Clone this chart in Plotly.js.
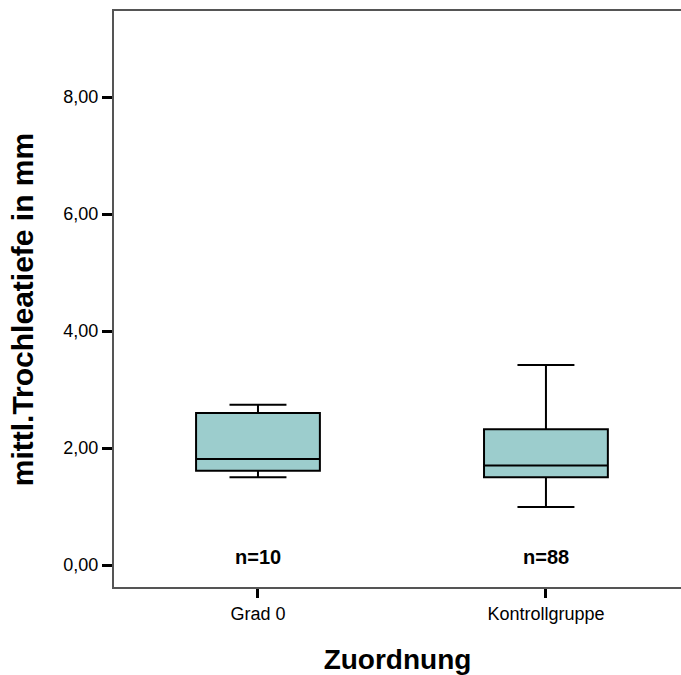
<!DOCTYPE html>
<html>
<head>
<meta charset="utf-8">
<script src="https://cdn.plot.ly/plotly-3.0.1.min.js"></script>
<style>html,body{margin:0;padding:0;background:#fff;}#chart{width:681px;height:675px;}</style>
</head>
<body>
<div id="chart"></div>
<script>
const categories = ["Grad 0", "Kontrollgruppe"];
const q1 = [1.61, 1.50];
const medians = [1.81, 1.70];
const q3 = [2.60, 2.32];
const lowerWhisker = [1.50, 0.99];
const upperWhisker = [2.74, 3.42];
const nLabels = ["n=10", "n=88"];
const yTicks = [0, 2, 4, 6, 8];
const yTickText = ["0,00", "2,00", "4,00", "6,00", "8,00"];
const yTitle = "mittl.Trochleatiefe in mm";
const xTitle = "Zuordnung";

const FONT = "Liberation Sans, Arial, sans-serif";

const trace = {
  type: "box",
  x: categories,
  q1: q1,
  median: medians,
  q3: q3,
  lowerfence: lowerWhisker,
  upperfence: upperWhisker,
  fillcolor: "#9CCDCD",
  line: {color: "#000000", width: 2},
  width: 0.43,
  whiskerwidth: 0.46,
  boxpoints: false,
  hoverinfo: "skip",
  showlegend: false
};

const annotations = categories.map((c, i) => ({
  x: c, y: 0.145, xref: "x", yref: "y",
  text: "<b>" + nLabels[i] + "</b>",
  showarrow: false, yanchor: "middle",
  font: {family: FONT, size: 20, color: "#000"}
}));
annotations.push({
  xref: "paper", yref: "paper",
  x: -0.160, y: 0.481,
  xanchor: "center", yanchor: "middle",
  textangle: -90,
  text: "<b>" + yTitle + "</b>",
  showarrow: false,
  font: {family: FONT, size: 30, color: "#000"}
});

const layout = {
  width: 681, height: 675,
  margin: {l: 114, r: 0, t: 11, b: 88},
  paper_bgcolor: "#fff", plot_bgcolor: "#fff",
  font: {family: FONT, color: "#000"},
  xaxis: {
    type: "category",
    range: [-0.5, 1.469],
    showgrid: false, zeroline: false,
    showline: true, mirror: true, linecolor: "#555555", linewidth: 2,
    ticks: "outside", ticklen: 9, tickwidth: 3, tickcolor: "#000",
    tickfont: {size: 18, color: "#000"},
    title: {text: "<b>" + xTitle + "</b>", font: {size: 28, color: "#000"}, standoff: 27}
  },
  yaxis: {
    range: [-0.376, 9.47],
    tickvals: yTicks, ticktext: yTickText,
    showgrid: false, zeroline: false,
    showline: true, linecolor: "#555555", linewidth: 2,
    ticks: "outside", ticklen: 10, tickwidth: 3, tickcolor: "#000",
    tickfont: {size: 18, color: "#000"}
  },
  annotations: annotations
};

Plotly.newPlot("chart", [trace], layout, {displayModeBar: false, staticPlot: true});
</script>
</body>
</html>
